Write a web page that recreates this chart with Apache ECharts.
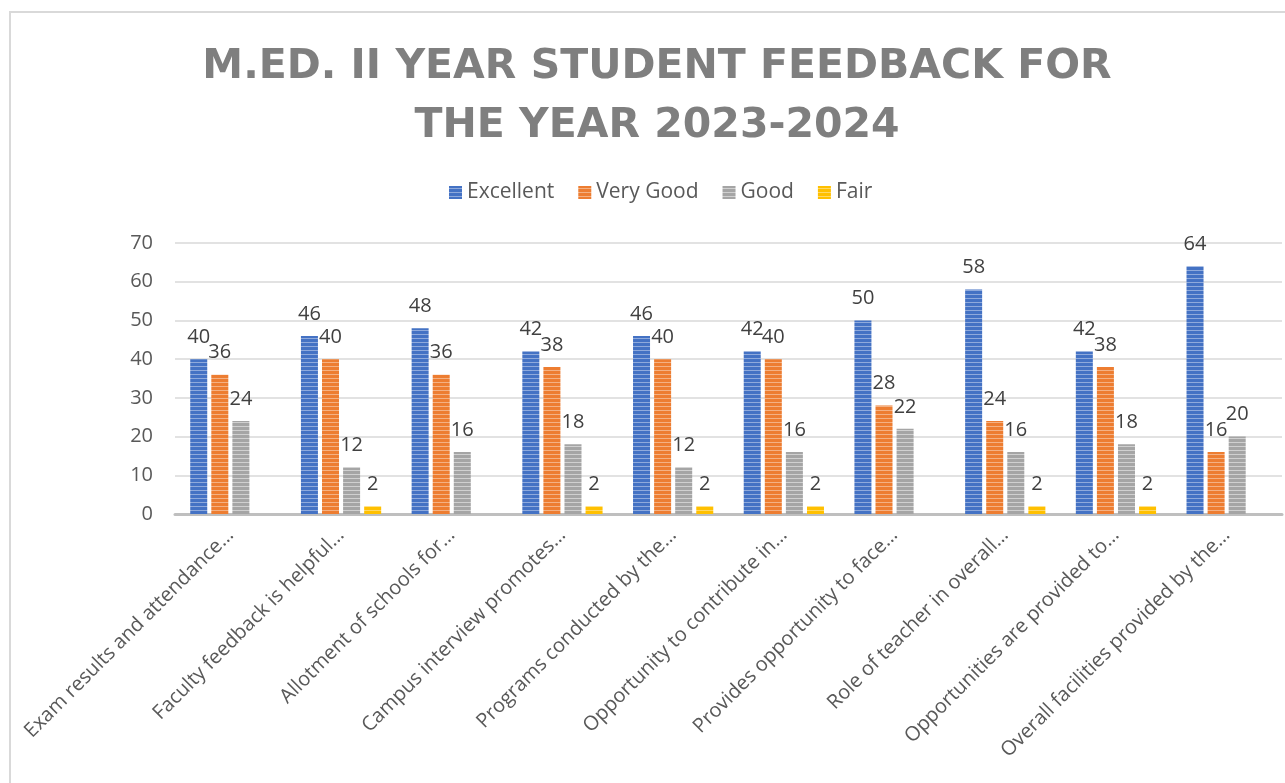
<!DOCTYPE html>
<html>
<head>
<meta charset="utf-8">
<title>M.ED. II Year Student Feedback</title>
<script src="https://cdn.jsdelivr.net/npm/echarts@6/dist/echarts.min.js"></script>
<style>
  html, body { margin: 0; padding: 0; background: #fff; }
  #chart { width: 1285px; height: 783px; }
</style>
</head>
<body>
<div id="chart"></div>
<script>
const categories = [
  'Exam results and attendance…',
  'Faculty feedback is helpful…',
  'Allotment of schools for…',
  'Campus interview promotes…',
  'Programs conducted by the…',
  'Opportunity to contribute in…',
  'Provides opportunity to face…',
  'Role of teacher in overall…',
  'Opportunities are provided to…',
  'Overall facilities provided by the…'
]
const seriesNames = ['Excellent', 'Very Good', 'Good', 'Fair']
const excellent = [40, 46, 48, 42, 46, 42, 50, 58, 42, 64]
const veryGood = [36, 40, 36, 38, 40, 40, 28, 24, 38, 16]
const good = [24, 12, 16, 18, 12, 16, 22, 16, 18, 20]
const fair = [0, 2, 0, 2, 2, 2, 0, 2, 2, 0]
const yTicks = [0, 10, 20, 30, 40, 50, 60, 70]

// horizontal stripe fill like the excel pattern
function stripes (base, light) {
  const c = document.createElement('canvas')
  c.width = 4
  c.height = 4
  const ctx = c.getContext('2d')
  ctx.fillStyle = base
  ctx.fillRect(0, 0, 4, 4)
  ctx.fillStyle = light
  ctx.fillRect(0, 2, 4, 1)
  return { image: c, repeat: 'repeat' }
}

const fills = [
  stripes('#4472c4', '#8faadc'),
  stripes('#ed7d31', '#f4b183'),
  stripes('#a5a5a5', '#d0d0d0'),
  stripes('#ffc000', '#ffd966')
]
const values = [excellent, veryGood, good, fair]

const chart = echarts.init(document.getElementById('chart'))

const option = {
  backgroundColor: '#fff',
  animation: false,
  title: {
    text: 'M.ED. II YEAR STUDENT FEEDBACK FOR\nTHE YEAR 2023-2024',
    left: 652,
    top: 33,
    textAlign: 'center',
    textStyle: {
      fontFamily: 'DejaVu Sans',
      fontWeight: 'bold',
      fontSize: 41,
      lineHeight: 59,
      color: '#7f7f7f'
    }
  },
  legend: {
    data: seriesNames,
    top: 177,
    left: 444,
    itemWidth: 13,
    itemHeight: 13,
    itemGap: 24,
    icon: 'rect',
    textStyle: {
      fontFamily: 'Open Sans',
      fontSize: 21,
      color: '#595959'
    }
  },
  graphic: [
    {
      type: 'rect',
      shape: { x: 10, y: 12, width: 1300, height: 800 },
      style: { fill: null, stroke: '#d9d9d9', lineWidth: 2 },
      silent: true
    }
  ],
  grid: {
    left: 175,
    right: 3,
    top: 243,
    bottom: 269
  },
  xAxis: {
    type: 'category',
    data: categories,
    axisLine: { lineStyle: { color: '#bfbfbf', width: 3 } },
    axisTick: { show: false },
    axisLabel: {
      rotate: 45,
      interval: 0,
      margin: 18,
      padding: [22, 0, 0, 0],
      fontFamily: 'Open Sans',
      fontSize: 20,
      color: '#595959'
    }
  },
  yAxis: {
    type: 'value',
    min: yTicks[0],
    max: yTicks[yTicks.length - 1],
    interval: 10,
    axisLine: { show: false },
    axisTick: { show: false },
    splitLine: { lineStyle: { color: '#d9d9d9', width: 1.5 } },
    axisLabel: {
      margin: 22,
      fontFamily: 'Open Sans',
      fontSize: 20,
      color: '#595959'
    }
  },
  series: seriesNames.map((name, i) => ({
    name: name,
    type: 'bar',
    data: values[i],
    barWidth: 17,
    barGap: '24%',
    itemStyle: { color: fills[i] },
    label: {
      show: true,
      position: 'top',
      distance: 12,
      fontFamily: 'Open Sans',
      fontSize: 20,
      color: '#404040',
      formatter: p => (p.value ? p.value : '')
    }
  }))
}

chart.setOption(option)
</script>
</body>
</html>
